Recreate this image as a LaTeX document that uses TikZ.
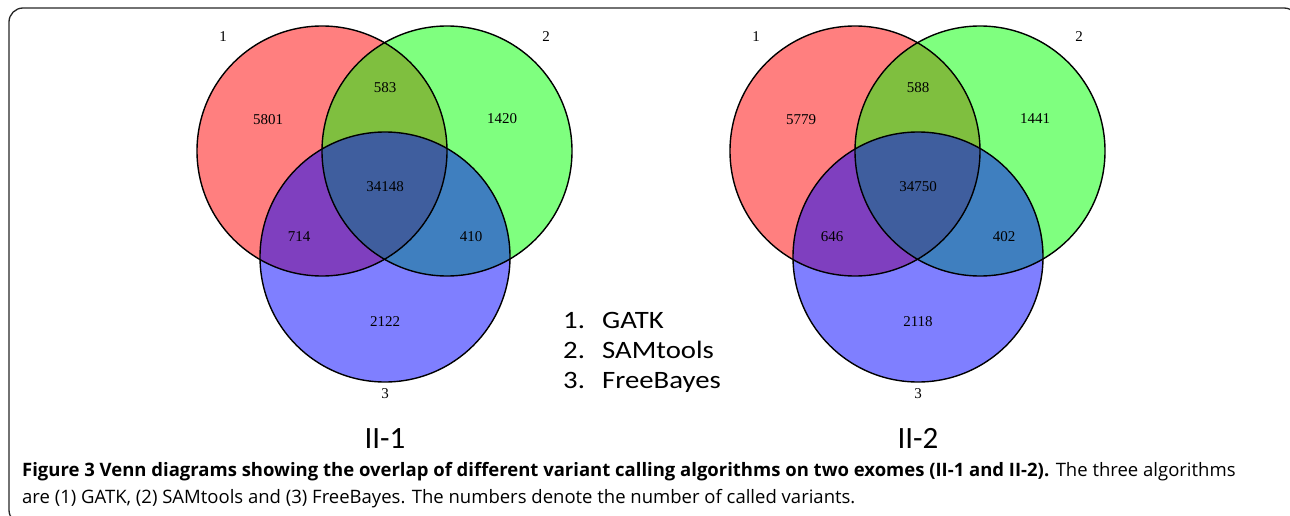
\documentclass[tikz,border=0pt]{standalone}
\usepackage{fontspec}
\setmainfont{Liberation Serif}
\newfontfamily\legendfont[FakeStretch=1.15]{Carlito}
\newfontfamily\titlefont{Carlito}
\newfontfamily\capfont{Open Sans}
\usetikzlibrary{positioning}

\begin{document}
\begin{tikzpicture}[
    x=1pt, y=-1pt,
    setfill/.style={fill opacity=0.5},
    setline/.style={draw=black, line width=1.4pt},
    numlabel/.style={font=\fontsize{15}{15}\selectfont, inner sep=0pt},
    keylabel/.style={font=\legendfont\fontsize{25}{25}\selectfont, anchor=base west, inner sep=0pt},
    title/.style={font=\titlefont\fontsize{31}{31}\selectfont, anchor=base, inner sep=0pt},
    caption/.style={font=\capfont\fontsize{18.5}{18.5}\selectfont, anchor=base west, inner sep=0pt}
]
\useasboundingbox (0,0) rectangle (1290,516);
\draw[rounded corners=14pt, line width=1.3pt, draw=black!85] (9,8) rectangle (1298,524);

% two Venn diagrams, the right one shifted by 533px
\foreach \dx/\d/\na/\nb/\nc/\nab/\nac/\nbc/\nabc/\name in
    {0/L/5801/1420/2122/583/714/410/34148/II-1,
     533/R/5779/1441/2118/588/646/402/34750/II-2}{
  \begin{scope}[xshift=\dx pt]
    \coordinate (\d1) at (322,151);
    \coordinate (\d2) at (447,151);
    \coordinate (\d3) at (385,257);
    \fill[red, setfill] (\d1) circle[radius=125pt];
    \fill[green, setfill] (\d2) circle[radius=125pt];
    \fill[blue, setfill] (\d3) circle[radius=125pt];
    \foreach \c in {1,2,3}
      \draw[setline] (\d\c) circle[radius=125pt];

    \node[numlabel] (\d-one) at (223,37) {1};
    \node[numlabel] (\d-two) at (546,37) {2};
    \node[numlabel] (\d-three) at (385,394) {3};

    \node[numlabel] (\d-a) at (268,120) {\na};
    \node[numlabel] (\d-b) at (502,119) {\nb};
    \node[numlabel] (\d-c) at (385,322) {\nc};
    \node[numlabel] (\d-ab) at (385,88) {\nab};
    \node[numlabel] (\d-ac) at (299,237) {\nac};
    \node[numlabel] (\d-bc) at (471,237) {\nbc};
    \node[numlabel] (\d-abc) at (385,187) {\nabc};

    \node[title] (\d-title) at (385,448) {\name};
  \end{scope}
}

% key to the three callers
\node[keylabel] (k1) at (563,328) {1.};
\node[keylabel] (k2) at (563,358) {2.};
\node[keylabel] (k3) at (563,388) {3.};
\node[keylabel] (gatk) at (602,328) {GATK};
\node[keylabel] (sam) at (602,358) {SAMtools};
\node[keylabel] (fb) at (602,388) {FreeBayes};

\node[caption] (cap1) at (22,476) {\textbf{Figure 3 Venn diagrams showing the overlap of different variant calling algorithms on two exomes (II-1 and II-2).} The three algorithms};
\node[caption] (cap2) at (22,503) {are (1) GATK, (2) SAMtools and (3) FreeBayes. The numbers denote the number of called variants.};
\end{tikzpicture}
\end{document}
